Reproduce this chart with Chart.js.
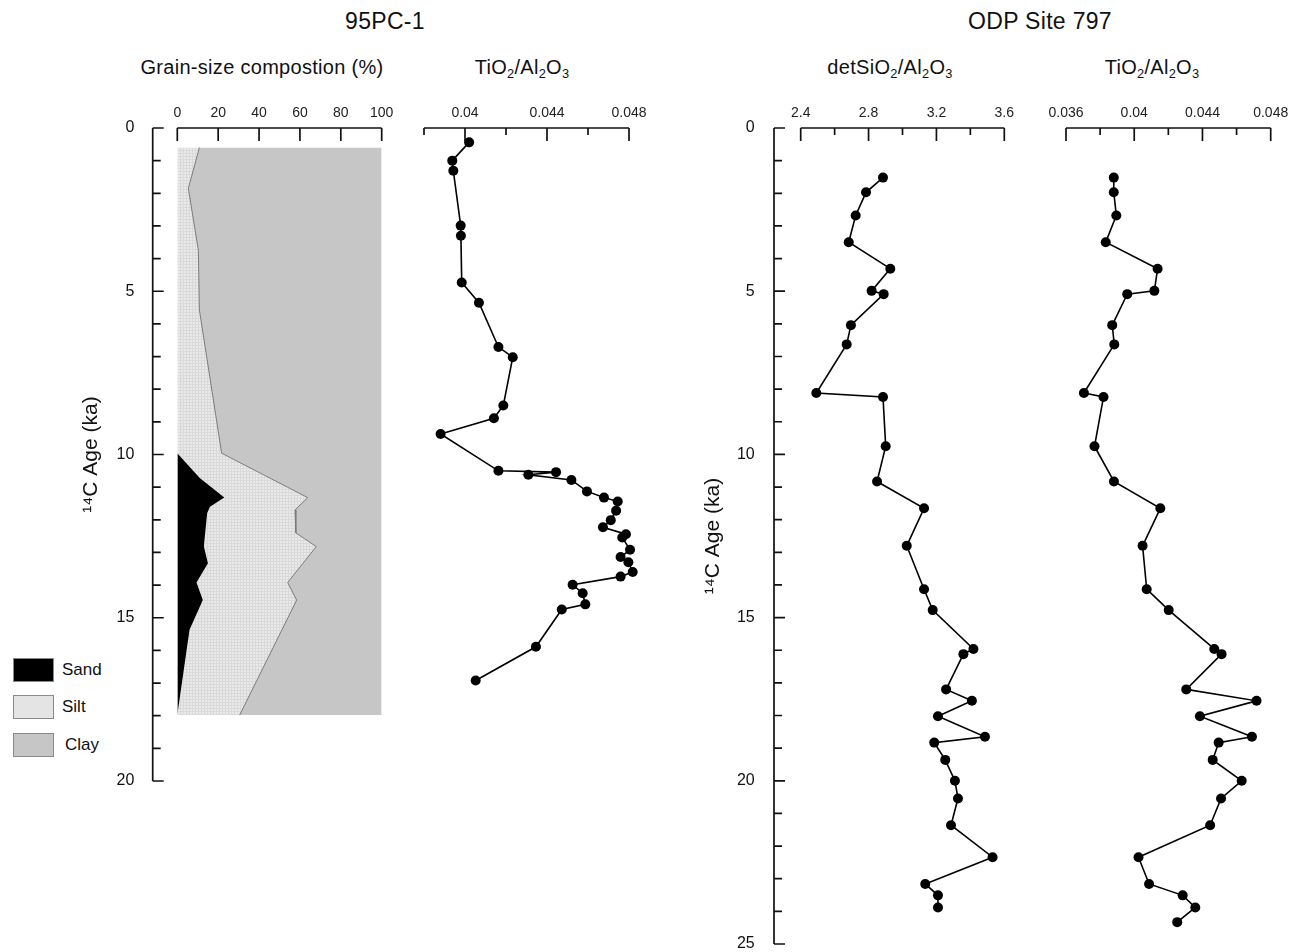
<!DOCTYPE html>
<html>
<head>
<meta charset="utf-8">
<script src="https://cdn.jsdelivr.net/npm/chart.js"></script>
<style>
  html, body { margin: 0; background: #fff; overflow: hidden; }
  body { font-family: "Liberation Sans", Arial, sans-serif; color: #111; }
  #page { position: relative; width: 1300px; height: 952px; overflow: hidden; }
  canvas { position: absolute; }
  .t { position: absolute; transform: translateX(-50%); white-space: nowrap; }
  .main { top: 8px; font-size: 23px; letter-spacing: 0.3px; }
  .sub { top: 56px; font-size: 20px; letter-spacing: 0.3px; }
  sub { font-size: 64%; vertical-align: -0.3em; line-height: 0; }
  .key { position: absolute; left: 13px; width: 41px; height: 24px; border: 1px solid #8a8a8a; box-sizing: border-box; }
  .keylab { position: absolute; left: 62px; font-size: 17px; }
</style>
</head>
<body>
<div id="page">
  <div class="t main" style="left:385px">95PC-1</div>
  <div class="t main" style="left:1040px">ODP Site 797</div>
  <div class="t sub" style="left:262px">Grain-size compostion (%)</div>
  <div class="t sub" style="left:522px">TiO<sub>2</sub>/Al<sub>2</sub>O<sub>3</sub></div>
  <div class="t sub" style="left:890px">detSiO<sub>2</sub>/Al<sub>2</sub>O<sub>3</sub></div>
  <div class="t sub" style="left:1152px">TiO<sub>2</sub>/Al<sub>2</sub>O<sub>3</sub></div>

  <div class="key" style="top:658px;background:#000"></div>
  <div class="keylab" style="top:660px">Sand</div>
  <div class="key" style="top:695px;background:#e4e4e4"></div>
  <div class="keylab" style="top:697px">Silt</div>
  <div class="key" style="top:733px;background:#c6c6c6"></div>
  <div class="keylab" style="top:735px;left:65px">Clay</div>

  <canvas id="grain" width="340" height="710" style="left:60px;top:90px"></canvas>
  <canvas id="pcTi" width="260" height="710" style="left:400px;top:90px"></canvas>
  <canvas id="odpSi" width="340" height="880" style="left:690px;top:90px"></canvas>
  <canvas id="odpTi" width="260" height="880" style="left:1040px;top:90px"></canvas>
</div>

<script>
// 95PC-1 grain size: outline of each layer, % (cumulative from the left edge)
const sandAge = [0.6, 9.96, 10.72, 11.32, 11.6, 11.8, 12.82, 13.33, 13.92, 14.46, 15.37, 17.98];
const sandEdge = [0, 0, 11, 23, 16, 14.6, 13, 15, 9.4, 12.5, 6, 0];
const siltAge = [0.6, 1.85, 3.74, 5.57, 9.96, 11.32, 11.7, 12.4, 12.82, 13.92, 14.46, 17.98];
const siltEdge = [10.8, 5.4, 10.3, 10.8, 21.7, 63.8, 57.6, 58, 68, 54, 58.4, 30.5];
const clayAge = [0.6, 17.98];
const clayEdge = [100, 100];

// 95PC-1 TiO2/Al2O3
const pcAge = [0.44, 1.0, 1.31, 2.99, 3.30, 4.73, 5.35, 6.71, 7.02, 8.50, 8.89, 9.37, 10.50, 10.54, 10.62,
  10.78, 11.13, 11.32, 11.44, 11.72, 12.01, 12.23, 12.44, 12.54, 12.92, 13.14, 13.30, 13.60, 13.74,
  13.99, 14.25, 14.59, 14.75, 15.89, 16.92];
const pcTiAl = [0.0402, 0.03938, 0.03943, 0.03979, 0.0398, 0.03984, 0.04068, 0.04163, 0.04233, 0.04187,
  0.04141, 0.03881, 0.04163, 0.04444, 0.04309, 0.04519, 0.04595, 0.04678, 0.04745, 0.04737, 0.04711,
  0.04673, 0.04785, 0.04767, 0.04805, 0.04759, 0.04797, 0.04818, 0.04759, 0.04525, 0.04574, 0.04587,
  0.04472, 0.04346, 0.04052];

// ODP Site 797 (detSiO2 has no value for the last sample)
const odpAge = [1.52, 1.97, 2.68, 3.50, 4.31, 4.99, 5.09, 6.04, 6.63, 8.12, 8.24, 9.75, 10.83, 11.65,
  12.80, 14.13, 14.77, 15.96, 16.12, 17.20, 17.55, 18.02, 18.65, 18.83, 19.36, 20.00, 20.54, 21.36,
  22.34, 23.16, 23.51, 23.88, 24.33];
const odpSiAl = [2.885, 2.785, 2.724, 2.683, 2.928, 2.818, 2.889, 2.696, 2.671, 2.492, 2.885, 2.901,
  2.850, 3.127, 3.025, 3.127, 3.178, 3.418, 3.359, 3.257, 3.409, 3.209, 3.486, 3.187, 3.252, 3.309,
  3.327, 3.286, 3.531, 3.134, 3.209, 3.209];
const odpTiAl = [0.0388, 0.0388, 0.03895, 0.03833, 0.04137, 0.04118, 0.03959, 0.03871, 0.03883, 0.03705,
  0.0382, 0.03767, 0.03881, 0.04153, 0.04049, 0.04073, 0.04202, 0.04469, 0.04512, 0.04305, 0.04717,
  0.04385, 0.0469, 0.04495, 0.0446, 0.0463, 0.04509, 0.04445, 0.04025, 0.04087, 0.04284, 0.04358, 0.04252];

const ageTitle = '\u00b9\u2074C Age (ka)';

Chart.defaults.font.family = '"Liberation Sans", Arial, sans-serif';
Chart.defaults.color = '#111';

const pts = (xs, ys) => xs.map((v, i) => ({x: v, y: ys[i]}));

function siltPattern() {
  const c = document.createElement('canvas');
  c.width = 3; c.height = 3;
  const g = c.getContext('2d');
  g.fillStyle = '#e9e9e9';
  g.fillRect(0, 0, 3, 3);
  g.fillStyle = '#d9d9d9';
  g.fillRect(0, 0, 3, 1);
  g.fillRect(0, 0, 1, 3);
  return g.createPattern(c, 'repeat');
}

// axis lines with ticks pointing into the plot, drawn from the chart's own scales
const axisFrame = {
  id: 'axisFrame',
  afterDraw(chart, args, opts) {
    const {ctx, chartArea: area, scales: {x, y}} = chart;
    ctx.save();
    ctx.strokeStyle = '#111';
    ctx.lineWidth = 1.7;
    ctx.beginPath();
    const top = area.top;
    ctx.moveTo(x.getPixelForValue(x.min), top);
    ctx.lineTo(x.getPixelForValue(x.max), top);
    x.ticks.forEach(t => {
      const px = x.getPixelForValue(t.value);
      ctx.moveTo(px, top);
      ctx.lineTo(px, top + (t.label ? 13 : 7));
    });
    if (opts.yGap) {
      const lx = area.left - opts.yGap;
      ctx.moveTo(lx, y.getPixelForValue(y.min));
      ctx.lineTo(lx, y.getPixelForValue(y.max));
      y.ticks.forEach(t => {
        const py = y.getPixelForValue(t.value);
        ctx.moveTo(lx, py);
        ctx.lineTo(lx + (t.label ? 11 : 8), py);
      });
    }
    ctx.stroke();
    ctx.restore();
  }
};

function makeOptions(cfg) {
  return {
    responsive: false,
    animation: false,
    events: [],
    indexAxis: 'y',
    layout: {padding: cfg.padding},
    plugins: {legend: {display: false}, tooltip: {enabled: false}, axisFrame: {yGap: cfg.yGap}},
    scales: {
      x: {
        type: 'linear', position: 'top', min: cfg.xMin, max: cfg.xMax,
        grid: {display: false, drawTicks: false}, border: {display: false},
        ticks: {stepSize: cfg.xStep, autoSkip: false, maxRotation: 0, padding: 6,
          font: {size: 14}, color: '#222', callback: cfg.xLabel},
        afterFit: s => { s.height = 38; }
      },
      y: {
        type: 'linear', reverse: true, min: 0, max: cfg.yMax, display: !!cfg.yGap,
        // the invisible tick length pushes the labels clear of the axis line
        grid: {display: true, drawOnChartArea: false, drawTicks: true, tickLength: cfg.yPad || 0,
          color: 'rgba(0,0,0,0)', tickColor: 'rgba(0,0,0,0)'},
        border: {display: false},
        ticks: {stepSize: 1, autoSkip: false, padding: 0, font: {size: 16}, color: '#111',
          callback: v => (v % 5 === 0 ? String(v) : '')},
        title: {display: !!cfg.yGap, text: ageTitle, font: {size: 21}, color: '#111',
          padding: {top: cfg.titlePad || 0, bottom: 0}},
        afterFit: s => { if (cfg.yWidth) s.width = cfg.yWidth; }
      }
    }
  };
}

function profile(data) {
  return {
    data: data, borderColor: '#000', borderWidth: 1.6, backgroundColor: '#000',
    pointRadius: 5, pointBorderWidth: 0, fill: false, clip: false
  };
}

const ratioLabel = (v, digits, every) => (Math.round(v * Math.pow(10, digits)) % every === 0 ? String(Number(v.toFixed(digits))) : '');

new Chart(document.getElementById('grain'), {
  type: 'line',
  data: {
    datasets: [
      {label: 'Sand', data: pts(sandEdge, sandAge), borderWidth: 0, pointRadius: 0,
        backgroundColor: '#000', fill: 'origin'},
      {label: 'Silt', data: pts(siltEdge, siltAge), borderWidth: 1, borderColor: '#7a7a7a', pointRadius: 0,
        backgroundColor: siltPattern(), fill: '-1'},
      {label: 'Clay', data: pts(clayEdge, clayAge), borderWidth: 0, pointRadius: 0,
        backgroundColor: '#c6c6c6', fill: '-1'}
    ]
  },
  options: makeOptions({xMin: 0, xMax: 100, xStep: 20, yMax: 20, yGap: 24.6, yWidth: 117.3, yPad: 43,
    titlePad: 19, padding: {left: 0, right: 18.3, top: 0, bottom: 19}}),
  plugins: [axisFrame]
});

new Chart(document.getElementById('pcTi'), {
  type: 'line',
  data: {datasets: [profile(pts(pcTiAl, pcAge))]},
  options: makeOptions({xMin: 0.038, xMax: 0.048, xStep: 0.002, yMax: 20, xLabel: v => ratioLabel(v, 3, 4),
    padding: {left: 24, right: 31, top: 0, bottom: 19}}),
  plugins: [axisFrame]
});

new Chart(document.getElementById('odpSi'), {
  type: 'line',
  data: {datasets: [profile(pts(odpSiAl, odpAge))]},
  options: makeOptions({xMin: 2.4, xMax: 3.6, xStep: 0.2, yMax: 25, yGap: 26.7, yWidth: 110.7, yPad: 46,
    titlePad: 11, xLabel: v => ratioLabel(v, 1, 4),
    padding: {left: 0, right: 25.7, top: 0, bottom: 26}}),
  plugins: [axisFrame]
});

new Chart(document.getElementById('odpTi'), {
  type: 'line',
  data: {datasets: [profile(pts(odpTiAl, odpAge))]},
  options: makeOptions({xMin: 0.036, xMax: 0.048, xStep: 0.002, yMax: 25, xLabel: v => ratioLabel(v, 3, 4),
    padding: {left: 26, right: 29.3, top: 0, bottom: 26}}),
  plugins: [axisFrame]
});
</script>
</body>
</html>
